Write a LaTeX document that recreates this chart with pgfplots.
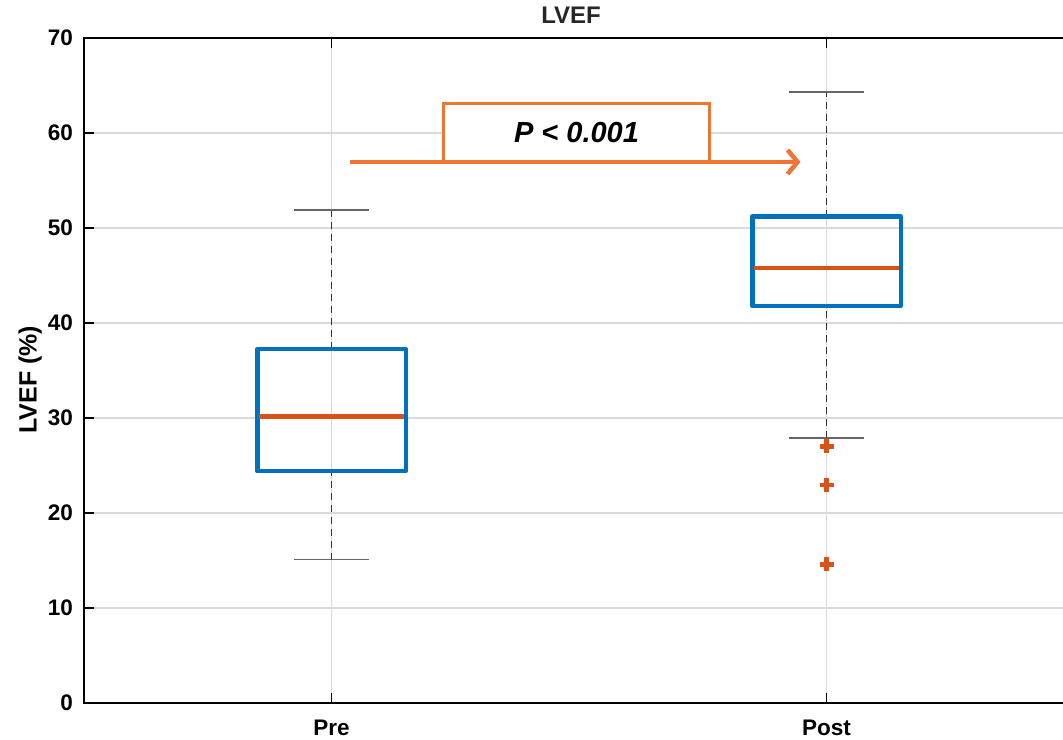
\documentclass[border=0pt]{standalone}
\usepackage{pgfplots}
\pgfplotsset{compat=1.18}
\usetikzlibrary{arrows.meta}
\usepackage{fontspec}
\setmainfont{Liberation Sans}
\definecolor{mblue}{RGB}{0,114,189}
\definecolor{morange}{RGB}{217,83,25}
\definecolor{aorange}{RGB}{237,118,52}
\definecolor{gridgray}{RGB}{218,218,218}
\definecolor{titlegray}{RGB}{38,38,38}
\begin{document}
\begin{tikzpicture}
\begin{axis}[
  at={(84bp,37bp)}, anchor=south west,
  scale only axis, width=990bp, height=665bp,
  xmin=0.5, xmax=2.5, ymin=0, ymax=70,
  xtick={1,2}, xticklabels={Pre,Post},
  ytick={0,10,...,70},
  grid=major, major grid style={draw=gridgray, line width=1.8bp},
  axis line style={black, line width=2bp},
  tick align=inside, major tick length=10bp,
  tick style={black, line width=1.5bp},
  /pgf/number format/assume math mode=true,
  tick label style={font=\fontsize{22.5bp}{27bp}\selectfont\bfseries},
  xticklabel style={anchor=north, inner sep=0pt, yshift=-17bp},
  yticklabel style={anchor=east, inner sep=0pt, xshift=-11bp},
  ylabel={LVEF (\%)},
  ylabel style={font=\fontsize{25bp}{30bp}\selectfont\bfseries, at={(axis description cs:-0.0545,0.486)}, anchor=center},
  title={LVEF},
  title style={font=\fontsize{24bp}{29bp}\selectfont\bfseries, text=titlegray, at={(axis description cs:0.492,1.0256)}, anchor=center},
  whisk/.style={black!80, dash pattern=on 7bp off 5bp, line width=1.5bp, mark=none},
  cap/.style={black!60, line width=1.8bp, mark=none},
  boxst/.style={mblue, line width=4.5bp, line join=round, line cap=round, mark=none},
  medst/.style={morange, line width=4.5bp, mark=none},
]
% whiskers
\addplot[whisk] coordinates {(1,15.1) (1,24.4)};
\addplot[whisk] coordinates {(1,37.25) (1,51.9)};
\addplot[cap] coordinates {(0.925,15.1) (1.075,15.1)};
\addplot[cap] coordinates {(0.925,51.9) (1.075,51.9)};
\addplot[whisk] coordinates {(2,27.9) (2,41.8)};
\addplot[whisk] coordinates {(2,51.2) (2,64.3)};
\addplot[cap] coordinates {(1.925,27.9) (2.075,27.9)};
\addplot[cap] coordinates {(1.925,64.3) (2.075,64.3)};
% boxes (quartiles)
\addplot[boxst] coordinates {(0.85,24.4) (1.15,24.4) (1.15,37.25) (0.85,37.25) (0.85,24.4) (1.15,24.4)};
\addplot[boxst] coordinates {(1.85,41.8) (2.15,41.8) (2.15,51.2) (1.85,51.2) (1.85,41.8) (2.15,41.8)};
% medians
\addplot[medst] coordinates {(0.853,30.15) (1.147,30.15)};
\addplot[medst] coordinates {(1.853,45.8) (2.147,45.8)};
% outliers
\addplot[only marks, mark=+, mark size=7bp, mark options={draw=morange, line width=4.5bp}]
  coordinates {(2,27.0) (2,22.95) (2,14.6)};
\draw[aorange, line width=4.5bp, -{Straight Barb[length=10bp, width=24bp]}]
  (axis cs:1.038,56.95) -- (axis cs:1.9475,56.95);
\draw[aorange, line width=3.5bp, fill=white] (axis cs:1.2263,56.95) rectangle (axis cs:1.7636,63.1);
\node[font=\fontsize{29bp}{34bp}\selectfont\bfseries\itshape, text=black] at (axis cs:1.495,60.05) {P < 0.001};
\end{axis}
\pgfresetboundingbox
\useasboundingbox (0,0) rectangle (1063bp,740bp);
\end{tikzpicture}
\end{document}
